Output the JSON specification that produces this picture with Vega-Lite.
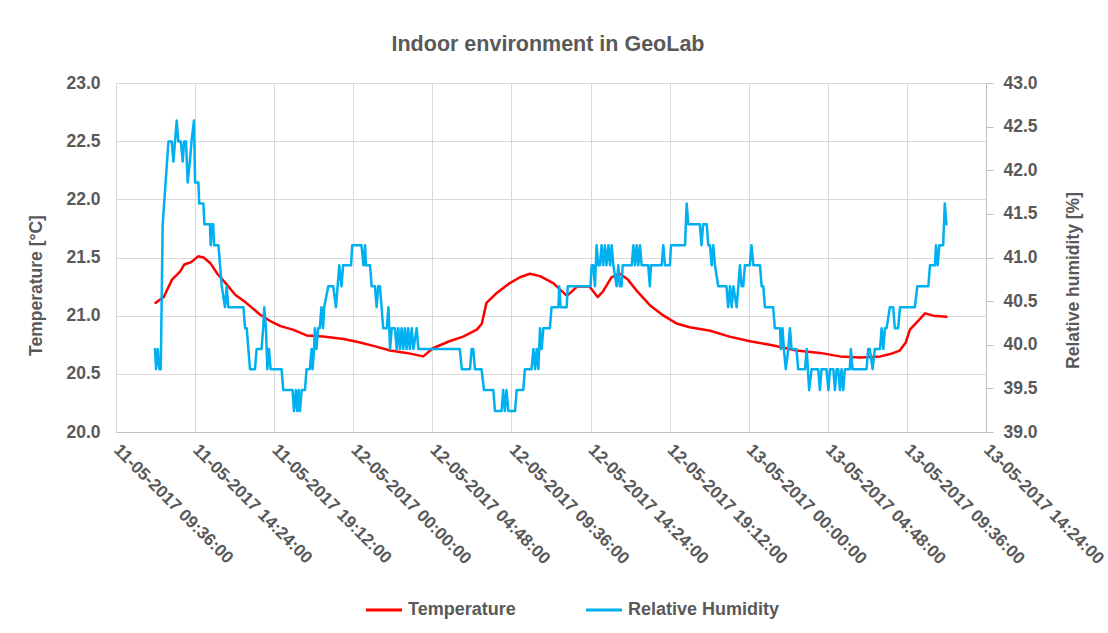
{
  "$schema": "https://vega.github.io/schema/vega-lite/v6.json",
  "width": 870,
  "height": 349,
  "autosize": {"type": "none"},
  "padding": {"left": 116, "top": 83, "right": 122, "bottom": 201},
  "background": "white",
  "title": {
    "text": "Indoor environment in GeoLab",
    "frame": "group",
    "anchor": "middle",
    "baseline": "alphabetic",
    "offset": 32,
    "dx": -3,
    "dy": 30,
    "font": "Liberation Sans",
    "fontSize": 21.5,
    "fontWeight": "bold",
    "color": "#595959"
  },
  "datasets": {
    "temp": [
      {"t": "2017-05-11T12:00", "v": 21.11},
      {"t": "2017-05-11T12:30", "v": 21.16},
      {"t": "2017-05-11T13:00", "v": 21.31},
      {"t": "2017-05-11T13:30", "v": 21.38},
      {"t": "2017-05-11T13:45", "v": 21.44},
      {"t": "2017-05-11T14:10", "v": 21.46},
      {"t": "2017-05-11T14:35", "v": 21.51},
      {"t": "2017-05-11T14:55", "v": 21.50},
      {"t": "2017-05-11T15:20", "v": 21.45},
      {"t": "2017-05-11T15:45", "v": 21.36},
      {"t": "2017-05-11T16:15", "v": 21.28},
      {"t": "2017-05-11T16:50", "v": 21.18},
      {"t": "2017-05-11T17:30", "v": 21.11},
      {"t": "2017-05-11T18:20", "v": 21.01},
      {"t": "2017-05-11T19:00", "v": 20.95},
      {"t": "2017-05-11T19:35", "v": 20.91},
      {"t": "2017-05-11T20:20", "v": 20.88},
      {"t": "2017-05-11T21:10", "v": 20.83},
      {"t": "2017-05-11T22:10", "v": 20.82},
      {"t": "2017-05-11T23:25", "v": 20.80},
      {"t": "2017-05-12T00:25", "v": 20.77},
      {"t": "2017-05-12T01:13", "v": 20.74},
      {"t": "2017-05-12T02:14", "v": 20.70},
      {"t": "2017-05-12T03:14", "v": 20.68},
      {"t": "2017-05-12T04:15", "v": 20.65},
      {"t": "2017-05-12T04:50", "v": 20.72},
      {"t": "2017-05-12T05:50", "v": 20.78},
      {"t": "2017-05-12T06:40", "v": 20.82},
      {"t": "2017-05-12T07:30", "v": 20.88},
      {"t": "2017-05-12T07:48", "v": 20.93},
      {"t": "2017-05-12T08:05", "v": 21.11},
      {"t": "2017-05-12T08:40", "v": 21.19},
      {"t": "2017-05-12T09:30", "v": 21.28},
      {"t": "2017-05-12T10:07", "v": 21.33},
      {"t": "2017-05-12T10:43", "v": 21.36},
      {"t": "2017-05-12T11:20", "v": 21.34},
      {"t": "2017-05-12T12:08", "v": 21.28},
      {"t": "2017-05-12T12:58", "v": 21.17},
      {"t": "2017-05-12T13:35", "v": 21.25},
      {"t": "2017-05-12T14:20", "v": 21.25},
      {"t": "2017-05-12T14:50", "v": 21.16},
      {"t": "2017-05-12T15:10", "v": 21.21},
      {"t": "2017-05-12T15:40", "v": 21.33},
      {"t": "2017-05-12T16:10", "v": 21.36},
      {"t": "2017-05-12T16:40", "v": 21.31},
      {"t": "2017-05-12T17:10", "v": 21.22},
      {"t": "2017-05-12T18:00", "v": 21.09},
      {"t": "2017-05-12T18:50", "v": 21.00},
      {"t": "2017-05-12T19:40", "v": 20.93},
      {"t": "2017-05-12T20:25", "v": 20.90},
      {"t": "2017-05-12T21:40", "v": 20.87},
      {"t": "2017-05-12T22:50", "v": 20.82},
      {"t": "2017-05-13T00:05", "v": 20.78},
      {"t": "2017-05-13T01:17", "v": 20.75},
      {"t": "2017-05-13T02:54", "v": 20.70},
      {"t": "2017-05-13T04:19", "v": 20.68},
      {"t": "2017-05-13T05:32", "v": 20.65},
      {"t": "2017-05-13T06:45", "v": 20.64},
      {"t": "2017-05-13T08:00", "v": 20.65},
      {"t": "2017-05-13T08:35", "v": 20.67},
      {"t": "2017-05-13T09:10", "v": 20.70},
      {"t": "2017-05-13T09:32", "v": 20.77},
      {"t": "2017-05-13T09:47", "v": 20.88},
      {"t": "2017-05-13T10:11", "v": 20.94},
      {"t": "2017-05-13T10:42", "v": 21.02},
      {"t": "2017-05-13T11:12", "v": 21.00},
      {"t": "2017-05-13T12:00", "v": 20.99}
    ],
    "hum": [
      {"t": "2017-05-11T11:58", "v": 39.95},
      {"t": "2017-05-11T12:02", "v": 39.72},
      {"t": "2017-05-11T12:08", "v": 39.95},
      {"t": "2017-05-11T12:14", "v": 39.72},
      {"t": "2017-05-11T12:19", "v": 39.72},
      {"t": "2017-05-11T12:26", "v": 41.38},
      {"t": "2017-05-11T12:47", "v": 42.33},
      {"t": "2017-05-11T12:59", "v": 42.33},
      {"t": "2017-05-11T13:05", "v": 42.10},
      {"t": "2017-05-11T13:17", "v": 42.57},
      {"t": "2017-05-11T13:23", "v": 42.33},
      {"t": "2017-05-11T13:32", "v": 42.33},
      {"t": "2017-05-11T13:39", "v": 42.10},
      {"t": "2017-05-11T13:44", "v": 42.33},
      {"t": "2017-05-11T13:51", "v": 42.33},
      {"t": "2017-05-11T13:57", "v": 41.86},
      {"t": "2017-05-11T14:05", "v": 42.10},
      {"t": "2017-05-11T14:11", "v": 42.33},
      {"t": "2017-05-11T14:20", "v": 42.57},
      {"t": "2017-05-11T14:24", "v": 41.86},
      {"t": "2017-05-11T14:36", "v": 41.86},
      {"t": "2017-05-11T14:39", "v": 41.62},
      {"t": "2017-05-11T14:54", "v": 41.62},
      {"t": "2017-05-11T14:58", "v": 41.38},
      {"t": "2017-05-11T15:18", "v": 41.38},
      {"t": "2017-05-11T15:21", "v": 41.14},
      {"t": "2017-05-11T15:24", "v": 41.38},
      {"t": "2017-05-11T15:30", "v": 41.38},
      {"t": "2017-05-11T15:33", "v": 41.14},
      {"t": "2017-05-11T15:49", "v": 41.14},
      {"t": "2017-05-11T15:55", "v": 40.91},
      {"t": "2017-05-11T16:01", "v": 40.67},
      {"t": "2017-05-11T16:13", "v": 40.43},
      {"t": "2017-05-11T16:19", "v": 40.67},
      {"t": "2017-05-11T16:25", "v": 40.43},
      {"t": "2017-05-11T17:20", "v": 40.43},
      {"t": "2017-05-11T17:26", "v": 40.19},
      {"t": "2017-05-11T17:32", "v": 40.19},
      {"t": "2017-05-11T17:38", "v": 39.95},
      {"t": "2017-05-11T17:44", "v": 39.72},
      {"t": "2017-05-11T18:02", "v": 39.72},
      {"t": "2017-05-11T18:08", "v": 39.95},
      {"t": "2017-05-11T18:26", "v": 39.95},
      {"t": "2017-05-11T18:32", "v": 40.19},
      {"t": "2017-05-11T18:36", "v": 40.43},
      {"t": "2017-05-11T18:42", "v": 40.19},
      {"t": "2017-05-11T18:47", "v": 39.72},
      {"t": "2017-05-11T18:53", "v": 39.95},
      {"t": "2017-05-11T18:59", "v": 39.72},
      {"t": "2017-05-11T19:39", "v": 39.72},
      {"t": "2017-05-11T19:45", "v": 39.48},
      {"t": "2017-05-11T20:19", "v": 39.48},
      {"t": "2017-05-11T20:24", "v": 39.24},
      {"t": "2017-05-11T20:31", "v": 39.48},
      {"t": "2017-05-11T20:36", "v": 39.24},
      {"t": "2017-05-11T20:41", "v": 39.48},
      {"t": "2017-05-11T20:46", "v": 39.24},
      {"t": "2017-05-11T20:52", "v": 39.48},
      {"t": "2017-05-11T21:04", "v": 39.48},
      {"t": "2017-05-11T21:10", "v": 39.72},
      {"t": "2017-05-11T21:22", "v": 39.72},
      {"t": "2017-05-11T21:28", "v": 39.95},
      {"t": "2017-05-11T21:32", "v": 39.72},
      {"t": "2017-05-11T21:37", "v": 39.95},
      {"t": "2017-05-11T21:40", "v": 40.19},
      {"t": "2017-05-11T21:46", "v": 39.95},
      {"t": "2017-05-11T21:52", "v": 40.19},
      {"t": "2017-05-11T21:58", "v": 40.19},
      {"t": "2017-05-11T22:04", "v": 40.43},
      {"t": "2017-05-11T22:10", "v": 40.19},
      {"t": "2017-05-11T22:14", "v": 40.43},
      {"t": "2017-05-11T22:29", "v": 40.67},
      {"t": "2017-05-11T22:47", "v": 40.67},
      {"t": "2017-05-11T22:57", "v": 40.43},
      {"t": "2017-05-11T23:03", "v": 40.67},
      {"t": "2017-05-11T23:09", "v": 40.91},
      {"t": "2017-05-11T23:17", "v": 40.67},
      {"t": "2017-05-11T23:23", "v": 40.91},
      {"t": "2017-05-11T23:52", "v": 40.91},
      {"t": "2017-05-11T23:56", "v": 41.14},
      {"t": "2017-05-12T00:30", "v": 41.14},
      {"t": "2017-05-12T00:37", "v": 40.91},
      {"t": "2017-05-12T00:43", "v": 41.14},
      {"t": "2017-05-12T00:46", "v": 40.91},
      {"t": "2017-05-12T01:01", "v": 40.91},
      {"t": "2017-05-12T01:07", "v": 40.67},
      {"t": "2017-05-12T01:19", "v": 40.67},
      {"t": "2017-05-12T01:25", "v": 40.43},
      {"t": "2017-05-12T01:31", "v": 40.67},
      {"t": "2017-05-12T01:37", "v": 40.67},
      {"t": "2017-05-12T01:43", "v": 40.43},
      {"t": "2017-05-12T01:49", "v": 40.19},
      {"t": "2017-05-12T02:02", "v": 40.19},
      {"t": "2017-05-12T02:08", "v": 40.43},
      {"t": "2017-05-12T02:14", "v": 39.95},
      {"t": "2017-05-12T02:20", "v": 40.19},
      {"t": "2017-05-12T02:32", "v": 40.19},
      {"t": "2017-05-12T02:38", "v": 39.95},
      {"t": "2017-05-12T02:44", "v": 40.19},
      {"t": "2017-05-12T02:50", "v": 39.95},
      {"t": "2017-05-12T02:56", "v": 40.19},
      {"t": "2017-05-12T03:02", "v": 39.95},
      {"t": "2017-05-12T03:08", "v": 40.19},
      {"t": "2017-05-12T03:14", "v": 39.95},
      {"t": "2017-05-12T03:20", "v": 40.19},
      {"t": "2017-05-12T03:26", "v": 39.95},
      {"t": "2017-05-12T03:33", "v": 40.19},
      {"t": "2017-05-12T03:39", "v": 39.95},
      {"t": "2017-05-12T03:51", "v": 40.19},
      {"t": "2017-05-12T03:57", "v": 39.95},
      {"t": "2017-05-12T06:28", "v": 39.95},
      {"t": "2017-05-12T06:35", "v": 39.72},
      {"t": "2017-05-12T07:05", "v": 39.72},
      {"t": "2017-05-12T07:11", "v": 39.95},
      {"t": "2017-05-12T07:17", "v": 39.95},
      {"t": "2017-05-12T07:23", "v": 39.72},
      {"t": "2017-05-12T07:47", "v": 39.72},
      {"t": "2017-05-12T07:56", "v": 39.48},
      {"t": "2017-05-12T08:30", "v": 39.48},
      {"t": "2017-05-12T08:36", "v": 39.24},
      {"t": "2017-05-12T09:00", "v": 39.24},
      {"t": "2017-05-12T09:06", "v": 39.48},
      {"t": "2017-05-12T09:12", "v": 39.24},
      {"t": "2017-05-12T09:18", "v": 39.48},
      {"t": "2017-05-12T09:25", "v": 39.24},
      {"t": "2017-05-12T09:49", "v": 39.24},
      {"t": "2017-05-12T09:55", "v": 39.48},
      {"t": "2017-05-12T10:19", "v": 39.48},
      {"t": "2017-05-12T10:25", "v": 39.72},
      {"t": "2017-05-12T10:49", "v": 39.72},
      {"t": "2017-05-12T10:56", "v": 39.95},
      {"t": "2017-05-12T11:02", "v": 39.72},
      {"t": "2017-05-12T11:08", "v": 39.95},
      {"t": "2017-05-12T11:14", "v": 39.72},
      {"t": "2017-05-12T11:20", "v": 40.19},
      {"t": "2017-05-12T11:26", "v": 39.95},
      {"t": "2017-05-12T11:32", "v": 40.19},
      {"t": "2017-05-12T11:56", "v": 40.19},
      {"t": "2017-05-12T12:02", "v": 40.43},
      {"t": "2017-05-12T12:27", "v": 40.43},
      {"t": "2017-05-12T12:30", "v": 40.67},
      {"t": "2017-05-12T12:35", "v": 40.43},
      {"t": "2017-05-12T12:57", "v": 40.43},
      {"t": "2017-05-12T13:01", "v": 40.67},
      {"t": "2017-05-12T14:24", "v": 40.67},
      {"t": "2017-05-12T14:28", "v": 40.91},
      {"t": "2017-05-12T14:34", "v": 40.91},
      {"t": "2017-05-12T14:40", "v": 40.67},
      {"t": "2017-05-12T14:46", "v": 41.14},
      {"t": "2017-05-12T14:52", "v": 40.91},
      {"t": "2017-05-12T14:58", "v": 40.91},
      {"t": "2017-05-12T15:04", "v": 41.14},
      {"t": "2017-05-12T15:10", "v": 40.91},
      {"t": "2017-05-12T15:16", "v": 41.14},
      {"t": "2017-05-12T15:22", "v": 40.91},
      {"t": "2017-05-12T15:29", "v": 41.14},
      {"t": "2017-05-12T15:35", "v": 40.91},
      {"t": "2017-05-12T15:41", "v": 41.14},
      {"t": "2017-05-12T15:47", "v": 40.91},
      {"t": "2017-05-12T15:59", "v": 40.67},
      {"t": "2017-05-12T16:05", "v": 40.91},
      {"t": "2017-05-12T16:11", "v": 40.67},
      {"t": "2017-05-12T16:17", "v": 40.67},
      {"t": "2017-05-12T16:21", "v": 40.91},
      {"t": "2017-05-12T16:54", "v": 40.91},
      {"t": "2017-05-12T17:00", "v": 41.14},
      {"t": "2017-05-12T17:06", "v": 40.91},
      {"t": "2017-05-12T17:12", "v": 41.14},
      {"t": "2017-05-12T17:18", "v": 40.91},
      {"t": "2017-05-12T17:24", "v": 41.14},
      {"t": "2017-05-12T17:30", "v": 40.91},
      {"t": "2017-05-12T17:54", "v": 40.91},
      {"t": "2017-05-12T18:00", "v": 40.67},
      {"t": "2017-05-12T18:04", "v": 40.91},
      {"t": "2017-05-12T18:43", "v": 40.91},
      {"t": "2017-05-12T18:49", "v": 41.14},
      {"t": "2017-05-12T18:55", "v": 40.91},
      {"t": "2017-05-12T19:13", "v": 40.91},
      {"t": "2017-05-12T19:17", "v": 41.14},
      {"t": "2017-05-12T20:08", "v": 41.14},
      {"t": "2017-05-12T20:14", "v": 41.62},
      {"t": "2017-05-12T20:20", "v": 41.38},
      {"t": "2017-05-12T21:02", "v": 41.38},
      {"t": "2017-05-12T21:08", "v": 41.14},
      {"t": "2017-05-12T21:14", "v": 41.38},
      {"t": "2017-05-12T21:27", "v": 41.38},
      {"t": "2017-05-12T21:33", "v": 41.14},
      {"t": "2017-05-12T21:39", "v": 41.14},
      {"t": "2017-05-12T21:45", "v": 40.91},
      {"t": "2017-05-12T21:51", "v": 41.14},
      {"t": "2017-05-12T21:57", "v": 40.91},
      {"t": "2017-05-12T22:09", "v": 40.67},
      {"t": "2017-05-12T22:39", "v": 40.67},
      {"t": "2017-05-12T22:45", "v": 40.43},
      {"t": "2017-05-12T22:52", "v": 40.67},
      {"t": "2017-05-12T22:58", "v": 40.43},
      {"t": "2017-05-12T23:04", "v": 40.67},
      {"t": "2017-05-12T23:16", "v": 40.43},
      {"t": "2017-05-12T23:22", "v": 40.67},
      {"t": "2017-05-12T23:28", "v": 40.91},
      {"t": "2017-05-12T23:34", "v": 40.67},
      {"t": "2017-05-12T23:40", "v": 40.67},
      {"t": "2017-05-12T23:46", "v": 40.91},
      {"t": "2017-05-13T00:04", "v": 40.91},
      {"t": "2017-05-13T00:10", "v": 41.14},
      {"t": "2017-05-13T00:17", "v": 40.91},
      {"t": "2017-05-13T00:41", "v": 40.91},
      {"t": "2017-05-13T00:47", "v": 40.67},
      {"t": "2017-05-13T00:53", "v": 40.67},
      {"t": "2017-05-13T00:59", "v": 40.43},
      {"t": "2017-05-13T01:29", "v": 40.43},
      {"t": "2017-05-13T01:35", "v": 40.19},
      {"t": "2017-05-13T01:54", "v": 40.19},
      {"t": "2017-05-13T01:57", "v": 39.95},
      {"t": "2017-05-13T02:03", "v": 40.19},
      {"t": "2017-05-13T02:08", "v": 39.95},
      {"t": "2017-05-13T02:15", "v": 39.72},
      {"t": "2017-05-13T02:24", "v": 39.95},
      {"t": "2017-05-13T02:30", "v": 40.19},
      {"t": "2017-05-13T02:36", "v": 39.95},
      {"t": "2017-05-13T02:54", "v": 39.95},
      {"t": "2017-05-13T03:00", "v": 39.72},
      {"t": "2017-05-13T03:25", "v": 39.72},
      {"t": "2017-05-13T03:31", "v": 39.95},
      {"t": "2017-05-13T03:40", "v": 39.48},
      {"t": "2017-05-13T03:49", "v": 39.72},
      {"t": "2017-05-13T04:13", "v": 39.72},
      {"t": "2017-05-13T04:19", "v": 39.48},
      {"t": "2017-05-13T04:25", "v": 39.72},
      {"t": "2017-05-13T04:43", "v": 39.72},
      {"t": "2017-05-13T04:50", "v": 39.48},
      {"t": "2017-05-13T04:56", "v": 39.72},
      {"t": "2017-05-13T05:08", "v": 39.72},
      {"t": "2017-05-13T05:14", "v": 39.48},
      {"t": "2017-05-13T05:20", "v": 39.72},
      {"t": "2017-05-13T05:26", "v": 39.72},
      {"t": "2017-05-13T05:32", "v": 39.48},
      {"t": "2017-05-13T05:38", "v": 39.72},
      {"t": "2017-05-13T05:44", "v": 39.48},
      {"t": "2017-05-13T05:50", "v": 39.72},
      {"t": "2017-05-13T06:08", "v": 39.72},
      {"t": "2017-05-13T06:12", "v": 39.95},
      {"t": "2017-05-13T06:18", "v": 39.72},
      {"t": "2017-05-13T07:09", "v": 39.72},
      {"t": "2017-05-13T07:15", "v": 39.95},
      {"t": "2017-05-13T07:21", "v": 39.95},
      {"t": "2017-05-13T07:31", "v": 39.72},
      {"t": "2017-05-13T07:39", "v": 39.95},
      {"t": "2017-05-13T07:58", "v": 39.95},
      {"t": "2017-05-13T08:04", "v": 40.19},
      {"t": "2017-05-13T08:10", "v": 39.95},
      {"t": "2017-05-13T08:16", "v": 40.19},
      {"t": "2017-05-13T08:22", "v": 40.19},
      {"t": "2017-05-13T08:34", "v": 40.43},
      {"t": "2017-05-13T08:46", "v": 40.43},
      {"t": "2017-05-13T08:52", "v": 40.19},
      {"t": "2017-05-13T09:04", "v": 40.19},
      {"t": "2017-05-13T09:11", "v": 40.43},
      {"t": "2017-05-13T10:05", "v": 40.43},
      {"t": "2017-05-13T10:14", "v": 40.67},
      {"t": "2017-05-13T10:54", "v": 40.67},
      {"t": "2017-05-13T11:00", "v": 40.91},
      {"t": "2017-05-13T11:18", "v": 40.91},
      {"t": "2017-05-13T11:22", "v": 41.14},
      {"t": "2017-05-13T11:28", "v": 40.91},
      {"t": "2017-05-13T11:34", "v": 41.14},
      {"t": "2017-05-13T11:48", "v": 41.14},
      {"t": "2017-05-13T11:54", "v": 41.62},
      {"t": "2017-05-13T12:00", "v": 41.38}
    ]
  },
  "encoding": {
    "x": {
      "field": "t",
      "type": "temporal",
      "scale": {
        "domain": [
          {"year": 2017, "month": 5, "date": 11, "hours": 9, "minutes": 36},
          {"year": 2017, "month": 5, "date": 13, "hours": 14, "minutes": 24}
        ],
        "nice": false
      },
      "axis": {
        "title": null,
        "values": [
          {"year": 2017, "month": 5, "date": 11, "hours": 9, "minutes": 36},
          {"year": 2017, "month": 5, "date": 11, "hours": 14, "minutes": 24},
          {"year": 2017, "month": 5, "date": 11, "hours": 19, "minutes": 12},
          {"year": 2017, "month": 5, "date": 12, "hours": 0, "minutes": 0},
          {"year": 2017, "month": 5, "date": 12, "hours": 4, "minutes": 48},
          {"year": 2017, "month": 5, "date": 12, "hours": 9, "minutes": 36},
          {"year": 2017, "month": 5, "date": 12, "hours": 14, "minutes": 24},
          {"year": 2017, "month": 5, "date": 12, "hours": 19, "minutes": 12},
          {"year": 2017, "month": 5, "date": 13, "hours": 0, "minutes": 0},
          {"year": 2017, "month": 5, "date": 13, "hours": 4, "minutes": 48},
          {"year": 2017, "month": 5, "date": 13, "hours": 9, "minutes": 36},
          {"year": 2017, "month": 5, "date": 13, "hours": 14, "minutes": 24}
        ],
        "format": "%d-%m-%Y %H:%M:%S",
        "labelAngle": 45,
        "labelAlign": "left",
        "labelBaseline": "middle",
        "labelFontSize": 17.2,
        "labelPadding": 15,
        "labelOverlap": false,
        "labelFlush": false,
        "labelBound": false,
        "labelLimit": 400,
        "ticks": false,
        "grid": true,
        "domainColor": "#BFBFBF"
      }
    }
  },
  "layer": [
    {
      "data": {"name": "temp"},
      "mark": {"type": "line", "strokeWidth": 2.5, "strokeJoin": "round", "strokeCap": "round"},
      "encoding": {
        "y": {
          "field": "v",
          "type": "quantitative",
          "scale": {"domain": [20, 23], "nice": false, "zero": false},
          "axis": {
            "orient": "left",
            "values": [20, 20.5, 21, 21.5, 22, 22.5, 23],
            "format": ".1f",
            "grid": true,
            "ticks": false,
            "domainColor": "#D9D9D9",
            "labelPadding": 16,
            "labelFontSize": 17.5,
            "title": "Temperature [°C]",
            "titleFontSize": 17.5,
            "titleX": -80,
            "titleY": 202,
            "titleAngle": -90,
            "titleAlign": "center",
            "titleBaseline": "middle"
          }
        },
        "color": {
          "datum": "Temperature",
          "type": "nominal",
          "scale": {"domain": ["Temperature", "Relative Humidity"], "range": ["#FF0000", "#00B0F0"]},
          "legend": {
            "orient": "none",
            "legendX": 248,
            "legendY": 507,
            "direction": "horizontal",
            "title": null,
            "symbolType": "stroke",
            "symbolStrokeWidth": 3,
            "symbolSize": 1300,
            "labelFontSize": 18,
            "labelFontWeight": "bold",
            "labelColor": "#595959",
            "labelFont": "Liberation Sans",
            "labelOffset": 4,
            "columnPadding": 63
          }
        }
      }
    },
    {
      "data": {"name": "hum"},
      "mark": {"type": "line", "strokeWidth": 2.5, "strokeJoin": "round", "strokeCap": "round"},
      "encoding": {
        "y": {
          "field": "v",
          "type": "quantitative",
          "scale": {"domain": [39, 43], "nice": false, "zero": false},
          "axis": {
            "orient": "right",
            "values": [39, 39.5, 40, 40.5, 41, 41.5, 42, 42.5, 43],
            "format": ".1f",
            "grid": false,
            "ticks": true,
            "tickSize": 7,
            "tickColor": "#BFBFBF",
            "domainColor": "#BFBFBF",
            "labelPadding": 10,
            "labelFontSize": 17.5,
            "title": "Relative humidity [%]",
            "titleFontSize": 17.5,
            "titleX": 87,
            "titleY": 197,
            "titleAngle": -90,
            "titleAlign": "center",
            "titleBaseline": "middle"
          }
        },
        "color": {"datum": "Relative Humidity", "type": "nominal"}
      }
    }
  ],
  "resolve": {"scale": {"y": "independent"}},
  "config": {
    "font": "Liberation Sans",
    "view": {"stroke": null},
    "axis": {
      "labelFont": "Liberation Sans",
      "labelFontWeight": "bold",
      "labelColor": "#595959",
      "titleFont": "Liberation Sans",
      "titleFontWeight": "bold",
      "titleColor": "#595959",
      "gridColor": "#D9D9D9",
      "gridWidth": 1
    }
  }
}
